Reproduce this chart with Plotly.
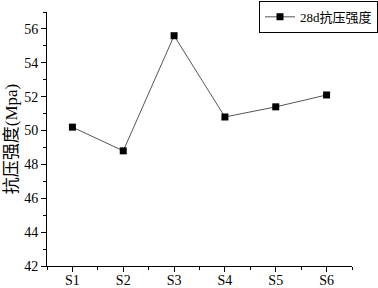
import plotly.graph_objects as go

categories = ["S1", "S2", "S3", "S4", "S5", "S6"]
strength_28d = [50.2, 48.8, 55.6, 50.8, 51.4, 52.1]
positions = [1, 2, 3, 4, 5, 6]

font_serif = "Liberation Serif, Times New Roman, Noto Sans CJK SC, serif"

fig = go.Figure()
fig.add_trace(go.Scatter(
    x=positions, y=strength_28d, mode="lines+markers", name="28d抗压强度",
    line=dict(color="#555555", width=1),
    marker=dict(symbol="square", size=7, color="black"),
))

fig.update_layout(
    width=378, height=288,
    margin=dict(l=47, r=26, t=12, b=22, autoexpand=False),
    paper_bgcolor="white", plot_bgcolor="white",
    font=dict(family=font_serif, size=14, color="black"),
    showlegend=True,
    legend=dict(xref="container", yref="container", x=1.0, y=0.997,
                xanchor="right", yanchor="top",
                bordercolor="black", borderwidth=1, bgcolor="white",
                font=dict(size=13), itemwidth=30,
                tracegroupgap=0),
    xaxis=dict(range=[0.5, 6.5], tickvals=positions, ticktext=categories,
               automargin=False, ticklabelstandoff=-4,
               showline=True, linecolor="black", linewidth=1,
               ticks="outside", ticklen=5, tickcolor="black",
               showgrid=False, zeroline=False,
               minor=dict(dtick=0.5, tick0=0.5, ticks="outside", ticklen=3, tickcolor="black", showgrid=False)),
    yaxis=dict(range=[42, 57], dtick=2, tick0=42, automargin=False,
               title=dict(text="抗压强度(Mpa)", standoff=2),
               showline=True, linecolor="black", linewidth=1,
               ticks="outside", ticklen=5, tickcolor="black",
               showgrid=False, zeroline=False,
               minor=dict(dtick=1, ticks="outside", ticklen=3, tickcolor="black", showgrid=False)),
)

fig.write_html("out.html", config={"displayModeBar": False},
               post_script="document.body.style.margin='0';")
